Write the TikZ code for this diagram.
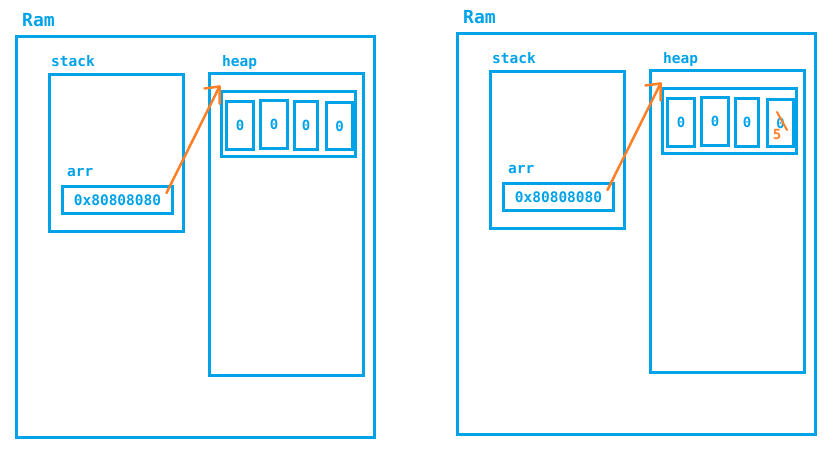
\documentclass[tikz,border=0pt]{standalone}
\usepackage{fontspec}
\setmonofont{DejaVu Sans Mono}
\usetikzlibrary{calc}
\definecolor{memblue}{RGB}{0,162,232}
\definecolor{ptrorange}{RGB}{255,127,39}
\tikzset{
  box/.style={draw=memblue, line width=3pt, inner sep=0pt},
  lbl/.style={anchor=base west, inner sep=0pt, text=memblue,
    font=\ttfamily\bfseries\fontsize{14.5}{16}\selectfont},
  title/.style={lbl, font=\ttfamily\bfseries\fontsize{18}{20}\selectfont},
  cell/.style={box, minimum height=48pt, text=memblue,
    font=\ttfamily\bfseries\fontsize{14}{16}\selectfont},
  pointer/.style={draw=ptrorange, line width=2.5pt, line cap=round, line join=round},
  % one memory snapshot: RAM with a stack frame and a heap array
  panel/.pic={
    \node[title] (-ramlbl) at (22,26) {Ram};
    \node[box, minimum width=358pt, minimum height=401pt] (-ram) at (195.5,237) {};
    \node[lbl] (-stacklbl) at (51,66) {stack};
    \node[box, minimum width=134pt, minimum height=157pt] (-stack) at (116.5,153) {};
    \node[lbl] (-heaplbl) at (222,66) {heap};
    \node[box, minimum width=154pt, minimum height=302pt] (-heap) at (286.5,224.5) {};
    \node[box, minimum width=134pt, minimum height=65pt] (-arr) at (288.5,124) {};
    \node[cell, minimum width=27pt] (-c1) at (240,125.5) {0};
    \node[cell, minimum width=27pt] (-c2) at (274,124.5) {0};
    \node[cell, minimum width=23pt] (-c3) at (306,125.5) {0};
    \node[cell, minimum width=26pt, minimum height=47pt] (-c4) at (339.5,126) {0};
    \node[lbl] (-ptrlbl) at (67,176) {arr};
    \node[box, minimum width=110pt, minimum height=27pt, text=memblue,
      font=\ttfamily\bfseries\fontsize{14.5}{16}\selectfont] (-ptr) at (117.5,200) {0x80808080};
    \coordinate (-tip) at ($(-arr.north west)+(-0.5,-3.5)$);
    \draw[pointer] ($(-ptr.east)+(-7.5,-7)$) -- (-tip);
    \draw[pointer] ($(-tip)+(-15,2)$) -- (-tip) -- ($(-tip)+(0,17)$);
  }
}
\begin{document}
\begin{tikzpicture}[x=1pt,y=-1pt]
  \useasboundingbox (0,0) rectangle (836,456);
  \pic (L) at (0,0) {panel};
  \pic (R) at (441,-3) {panel};
  % last element overwritten with 5
  \draw[pointer, line width=2pt] ($(R-c4.center)+(-3.5,-11)$) -- ($(R-c4.center)+(6.5,7)$);
  \node[inner sep=0pt, text=ptrorange, font=\ttfamily\bfseries\fontsize{14}{16}\selectfont]
    (R-five) at ($(R-c4.center)+(-3.5,11)$) {5};
\end{tikzpicture}
\end{document}
